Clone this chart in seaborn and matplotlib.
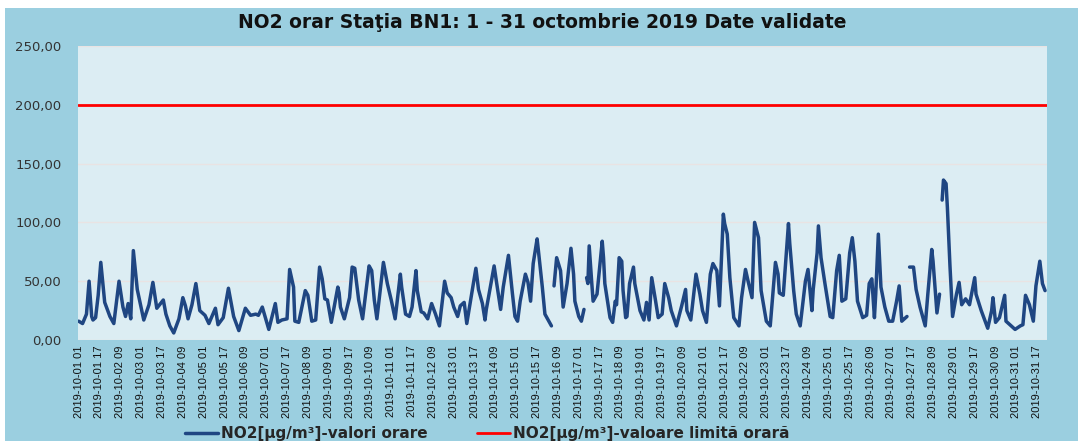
import numpy as np
import pandas as pd
import matplotlib
matplotlib.use("Agg")
import matplotlib.pyplot as plt
from matplotlib.lines import Line2D
from matplotlib.patches import Rectangle
from matplotlib.ticker import FuncFormatter, MultipleLocator
import seaborn as sns

# ora = ore scurse de la 2019-10-01 01:00, valori NO2 (NaN = date lipsa)
ora = [0, 3, 6, 8, 10, 11, 13, 15, 17, 20, 24, 27, 31, 34, 36, 38, 40, 42, 45, 50,
       54, 57, 60, 65, 67, 70, 73, 77, 80, 82, 84, 87, 90, 93, 97, 100, 105, 107, 111, 115,
       119, 123, 128, 132, 136, 138, 141, 146, 151, 153, 156, 160, 162, 165, 166, 169, 174, 176, 179, 182,
       185, 187, 189, 191, 194, 199, 200, 201, 204, 208, 210, 212, 215, 218, 223, 225, 227, 229, 234, 237,
       240, 243, 247, 248, 251, 254, 256, 259, 260, 263, 265, 268, 271, 274, 277, 281, 283, 286, 288, 291,
       293, 296, 298, 305, 307, 310, 312, 313, 319, 321, 324, 326, 330, 333, 335, 337, 339, 343, 345, 347,
       349, 352, 353, 356, 358, 361, 363, 364, 365, 367, 370, 372, 375, 378, 380, 381, 384, 386, 388, 389,
       390, 391, 392, 394, 395, 398, 402, 403, 404, 408, 410, 412, 413, 415, 417, 418, 420, 421, 423, 426,
       427, 431, 434, 436, 438, 440, 443, 445, 448, 450, 453, 455, 459, 463, 466, 467, 470, 474, 477, 479,
       482, 485, 487, 490, 492, 495, 496, 498, 500, 503, 507, 509, 512, 514, 517, 519, 522, 524, 528, 531,
       535, 537, 538, 541, 545, 546, 549, 551, 554, 558, 560, 563, 564, 567, 568, 570, 573, 577, 579, 582,
       584, 586, 589, 592, 594, 596, 598, 602, 605, 607, 609, 611, 612, 614, 616, 619, 622, 625, 628, 630,
       632, 634, 636, 637, 638, 641, 643, 646, 650, 652, 655, 656, 659, 661, 662, 663, 664, 666, 667, 669,
       671, 674, 676, 678, 681, 684, 688, 689, 693, 698, 701, 702, 704, 707, 711, 712, 715, 719, 723, 725,
       727, 730, 733, 735, 738, 740, 742]
no2 = [16, 14, 22, 50, 20, 17, 19, 38, 66, 32, 20, 14, 50, 28, 20, 31, 18, 76, 43, 17,
       30, 49, 27, 34, 22, 12, 6, 18, 36, 29, 18, 30, 48, 25, 21, 14, 27, 13, 19, 44,
       20, 8, 27, 21, 22, 21, 28, 9, 31, 15, 17, 18, 60, 45, 16, 15, 42, 38, 16, 17,
       62, 52, 35, 34, 15, 45, 40, 28, 18, 36, 62, 61, 34, 18, 63, 59, 34, 18, 66, 48,
       34, 18, 56, 45, 22, 20, 28, 59, 42, 24, 23, 18, 31, 22, 12, 50, 40, 36, 28, 20,
       29, 32, 14, 61, 43, 31, 17, 26, 63, 48, 26, 45, 72, 40, 20, 16, 33, 56, 49, 33,
       65, 86, 76, 45, 22, 16, 12, np.nan, 46, 70, 59, 28, 48, 78, 56, 33, 20, 16, 26, np.nan,
       53, 48, 80, 48, 33, 39, 84, 70, 48, 19, 15, 33, 30, 70, 67, 42, 19, 20, 48, 62,
       48, 25, 17, 32, 17, 53, 33, 19, 22, 48, 36, 25, 12, 29, 43, 25, 17, 56, 39, 25,
       15, 56, 65, 59, 29, 107, 99, 90, 53, 19, 12, 36, 60, 50, 36, 100, 87, 42, 16, 12,
       66, 56, 40, 38, 99, 82, 42, 22, 12, 50, 60, 25, 43, 74, 97, 70, 48, 20, 19, 59,
       72, 33, 35, 74, 87, 67, 33, 19, 21, 48, 52, 19, 39, 90, 45, 28, 16, 16, 33, 46,
       16, 18, 20, np.nan, 62, 62, 43, 28, 12, 39, 77, 67, 23, 39, np.nan, 119, 136, 133, 113, 63,
       20, 39, 49, 30, 35, 30, 53, 39, 25, 10, 25, 36, 15, 19, 38, 16, 13, 9, 12, 13,
       38, 30, 16, 46, 67, 48, 42]
limita_orara = 200.0

etichete_x = list(pd.date_range("2019-10-01 01:00", "2019-10-31 17:00", freq="16h").strftime("%Y-%m-%d %H"))
pozitii_x = list(range(0, 16 * len(etichete_x), 16))

ALBASTRU = "#1f4682"
ROSU = "#ff0000"
FUNDAL = "#9bcfe0"
ZONA = "#dcedf3"

df = pd.DataFrame({"ora": ora, "no2": no2})
df["segment"] = df["no2"].isna().cumsum()
df = df.dropna()

sns.set_style("white")
plt.rcParams["font.family"] = ["Liberation Sans", "DejaVu Sans"]

fig = plt.figure(figsize=(10.78, 4.41), dpi=100, facecolor="white")
fig.add_artist(Rectangle((5 / 1078, 0), 1, 1 - 8 / 441, transform=fig.transFigure,
                         facecolor=FUNDAL, edgecolor="none", zorder=-5))
ax = fig.add_axes([78 / 1078, 1 - 340 / 441, (1047 - 78) / 1078, (340 - 46) / 441])
ax.set_facecolor(ZONA)

sns.lineplot(data=df, x="ora", y="no2", units="segment", estimator=None,
             color=ALBASTRU, linewidth=2.5, ax=ax, legend=False)
ax.axhline(limita_orara, color=ROSU, linewidth=2.0, zorder=3)

ax.set_xlim(-0.5, 743.5)
ax.set_ylim(0, 250)
ax.yaxis.set_major_locator(MultipleLocator(50))
ax.yaxis.set_major_formatter(FuncFormatter(lambda v, p: f"{v:.2f}".replace(".", ",")))
ax.grid(axis="y", color="#e9e3e3", linewidth=1.0)
ax.grid(axis="x", visible=False)
ax.set_axisbelow(True)
for s in ax.spines.values():
    s.set_visible(False)

ax.set_xticks(pozitii_x)
ax.set_xticklabels(etichete_x, rotation=90, fontsize=8, color="#111111")
ax.tick_params(axis="x", length=0, pad=4)
ax.tick_params(axis="y", length=0, pad=12, labelsize=9.5, labelcolor="#333333")
for t in ax.get_yticklabels():
    t.set_fontfamily("DejaVu Sans")
ax.set_xlabel("")
ax.set_ylabel("")

fig.text(0.503, 0.95, "NO2 orar Staţia BN1: 1 - 31 octombrie 2019 Date validate",
         ha="center", va="center", fontsize=13.5, fontweight="bold",
         family="DejaVu Sans", color="#111111")

handles = [Line2D([], [], color=ALBASTRU, linewidth=2.5),
           Line2D([], [], color=ROSU, linewidth=2.0)]
labels = ["NO2[µg/m³]-valori orare", "NO2[µg/m³]-valoare limită orară"]
fig.legend(handles, labels, loc="center", bbox_to_anchor=(0.452, 0.016), ncol=2,
           frameon=False, handlelength=2.2, columnspacing=3.2, handletextpad=0.2,
           prop={"family": "DejaVu Sans", "weight": "bold", "size": 11})

fig.savefig("out.png", dpi=100, facecolor="white")
